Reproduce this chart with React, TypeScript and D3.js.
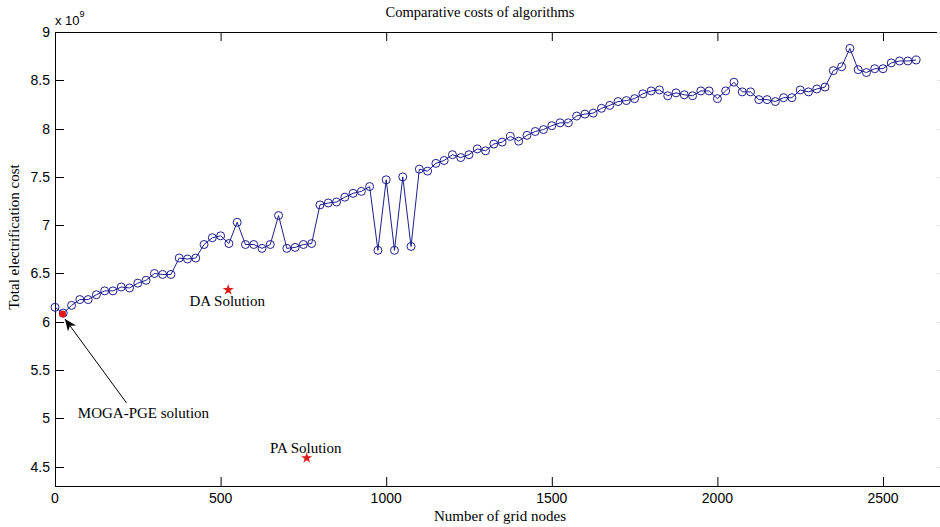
import React from 'react';
import * as d3 from 'd3';

// grid size (x) and total electrification cost (x 1e9) per run
const nodes = [
  0, 25, 50, 75, 100, 125, 150, 175, 200, 225, 250, 275, 300, 325, 350, 375, 400, 425, 450, 475,
  500, 525, 550, 575, 600, 625, 650, 675, 700, 725, 750, 775, 800, 825, 850, 875, 900, 925, 950, 975,
  1000, 1025, 1050, 1075, 1100, 1125, 1150, 1175, 1200, 1225, 1250, 1275, 1300, 1325, 1350, 1375, 1400, 1425, 1450, 1475,
  1500, 1525, 1550, 1575, 1600, 1625, 1650, 1675, 1700, 1725, 1750, 1775, 1800, 1825, 1850, 1875, 1900, 1925, 1950, 1975,
  2000, 2025, 2050, 2075, 2100, 2125, 2150, 2175, 2200, 2225, 2250, 2275, 2300, 2325, 2350, 2375, 2400, 2425, 2450, 2475,
  2500, 2525, 2550, 2575, 2600
];
const costs = [
  6.15, 6.09, 6.17, 6.23, 6.23, 6.28, 6.32, 6.32, 6.36, 6.35, 6.40, 6.43, 6.50, 6.49, 6.49, 6.66, 6.65, 6.66, 6.80, 6.87,
  6.89, 6.81, 7.03, 6.80, 6.80, 6.76, 6.80, 7.10, 6.76, 6.77, 6.80, 6.81, 7.21, 7.23, 7.24, 7.29, 7.33, 7.35, 7.40, 6.74,
  7.47, 6.74, 7.50, 6.78, 7.58, 7.56, 7.64, 7.67, 7.73, 7.70, 7.73, 7.79, 7.77, 7.84, 7.86, 7.92, 7.87, 7.93, 7.97, 7.99,
  8.03, 8.06, 8.06, 8.13, 8.15, 8.16, 8.21, 8.24, 8.28, 8.29, 8.31, 8.36, 8.39, 8.40, 8.34, 8.37, 8.35, 8.34, 8.39, 8.39,
  8.31, 8.39, 8.48, 8.38, 8.38, 8.30, 8.30, 8.28, 8.32, 8.32, 8.40, 8.38, 8.41, 8.43, 8.60, 8.64, 8.83, 8.61, 8.58, 8.62,
  8.62, 8.68, 8.70, 8.70, 8.71
];

// other algorithms (stars) and the MOGA-PGE point
const starNames = ['DA Solution', 'PA Solution'];
const starNodes = [523, 760];
const starCosts = [6.33, 4.59];
const labelNodes = [406, 649];
const labelCosts = [6.16, 4.64];

const mogaNode = 23;
const mogaCost = 6.08;
const mogaLabel = 'MOGA-PGE solution';
const mogaLabelAt = [69, 5.0];
const arrowTail = [216, 5.16];
const arrowTip = [30, 6.03];

const xTicks = [0, 500, 1000, 1500, 2000, 2500];
const yTicks = [4.5, 5, 5.5, 6, 6.5, 7, 7.5, 8, 8.5, 9];

const W = 940, H = 527;
const serif = '"Liberation Serif", "Times New Roman", serif';
const sans = '"Liberation Sans", Arial, sans-serif';
const blue = '#1e1e8c';
const red = '#e01a1a';

export default function App() {
  const x = d3.scaleLinear().domain([0, 2690]).range([55, 55 + 2690 * 0.3312]);
  const y = d3.scaleLinear().domain([4.3, 9]).range([486, 32]);
  const [x0, x1] = x.range();
  const [yb, yt] = y.range();
  const tl = 9;

  const line = d3.line<number>().x((d, i) => x(nodes[i])).y(d => y(d));
  const star = d3.symbol().type(d3.symbolStar).size(38)();

  // arrow head
  const tx = x(arrowTip[0]), ty = y(arrowTip[1]);
  const sx = x(arrowTail[0]), sy = y(arrowTail[1]);
  const ang = Math.atan2(ty - sy, tx - sx);
  const hl = 12, hw = 5;
  const pt = (a: number, b: number) => [tx + a * Math.cos(ang) - b * Math.sin(ang), ty + a * Math.sin(ang) + b * Math.cos(ang)];
  const head = [pt(0, 0), pt(-hl, hw), pt(-hl * 0.7, 0), pt(-hl, -hw)].map(p => p.join(',')).join(' ');

  return (
    <svg width={W} height={H} style={{ position: 'absolute', left: 0, top: 0, background: '#fff' }}>
      <rect width={W} height={H} fill="#fff" />
      <text x={480} y={17} textAnchor="middle" fontFamily={serif} fontSize={14.5}>Comparative costs of algorithms</text>

      {/* axes box */}
      <g stroke="#000" strokeWidth={1} fill="none">
        <line x1={x0} y1={yb + 0.5} x2={x1} y2={yb + 0.5} />
        <line x1={x0} y1={yt + 0.5} x2={x1} y2={yt + 0.5} />
        <line x1={x0 + 0.5} y1={yt} x2={x0 + 0.5} y2={yb} />
        <line x1={x1 + 0.5} y1={yt} x2={x1 + 0.5} y2={yb} />
      </g>
      {xTicks.map(t => (
        <g key={'x' + t}>
          <line x1={x(t) + 0.5} x2={x(t) + 0.5} y1={yb} y2={yb - tl} stroke="#000" />
          <line x1={x(t) + 0.5} x2={x(t) + 0.5} y1={yt} y2={yt + tl} stroke="#000" />
          <text x={x(t)} y={503} textAnchor="middle" fontFamily={sans} fontSize={14}>{t}</text>
        </g>
      ))}
      {yTicks.map(t => (
        <g key={'y' + t}>
          <line x1={x0} x2={x0 + tl} y1={Math.round(y(t)) + 0.5} y2={Math.round(y(t)) + 0.5} stroke="#000" />
          <line x1={x1} x2={x1 - tl} y1={Math.round(y(t)) + 0.5} y2={Math.round(y(t)) + 0.5} stroke="#e4e4e4" />
          <text x={50} y={y(t) + 5} textAnchor="end" fontFamily={sans} fontSize={14}>{t}</text>
        </g>
      ))}
      <text x={55} y={25} fontFamily={sans} fontSize={13}>x 10<tspan fontSize={9} dy={-8}>9</tspan></text>

      <text x={500} y={521} textAnchor="middle" fontFamily={serif} fontSize={15}>Number of grid nodes</text>
      <text transform="translate(19,237) rotate(-90)" textAnchor="middle" fontFamily={serif} fontSize={15}>Total electrification cost</text>

      {/* main series */}
      <path d={line(costs) || ''} fill="none" stroke={blue} strokeWidth={1} />
      {costs.map((c, i) => (
        <circle key={i} cx={x(nodes[i])} cy={y(c)} r={4} fill="none" stroke={blue} strokeWidth={1} />
      ))}

      {/* MOGA-PGE point with arrow */}
      <circle cx={x(mogaNode)} cy={y(mogaCost)} r={3.5} fill={red} />
      <line x1={sx} y1={sy} x2={tx} y2={ty} stroke="#000" strokeWidth={1} />
      <polygon points={head} fill="#000" />
      <text x={x(mogaLabelAt[0])} y={y(mogaLabelAt[1])} fontFamily={serif} fontSize={15}>{mogaLabel}</text>

      {starNames.map((n, i) => (
        <g key={n}>
          <path d={star || ''} transform={`translate(${x(starNodes[i])},${y(starCosts[i])})`} fill={red} />
          <text x={x(labelNodes[i])} y={y(labelCosts[i])} fontFamily={serif} fontSize={15}>{n}</text>
        </g>
      ))}
    </svg>
  );
}
